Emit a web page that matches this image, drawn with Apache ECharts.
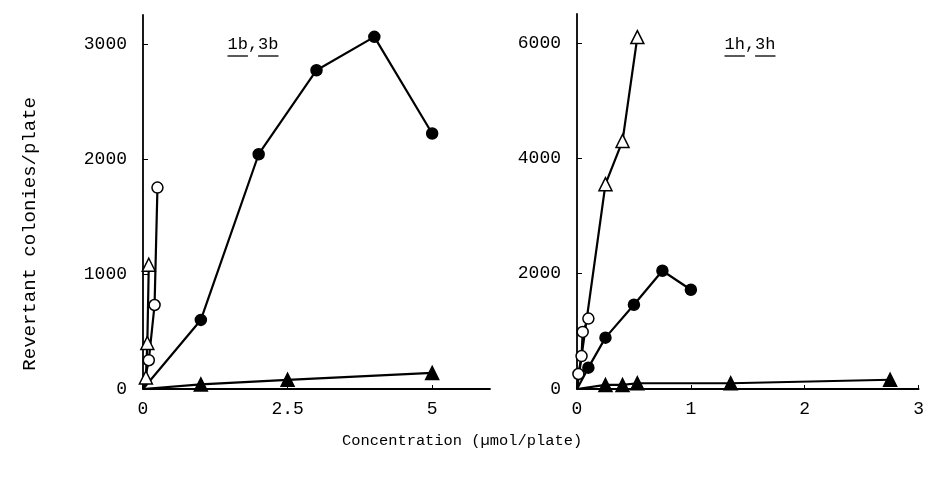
<!DOCTYPE html>
<html>
<head>
<meta charset="utf-8">
<script src="https://cdn.jsdelivr.net/npm/echarts@6/dist/echarts.min.js"></script>
<style>
html,body{margin:0;padding:0;background:#fff;}
#chart{width:927px;height:478px;}
</style>
</head>
<body>
<div id="chart"></div>
<script>
// left panel: 1b, 3b
var bFilledCircleX=[0,1,2,3,4,5];
var bFilledCircleY=[0,600,2040,2770,3060,2220];
var bFilledTriX=[0,1,2.5,5];
var bFilledTriY=[0,40,80,140];
var bOpenCircleX=[0,0.1,0.2,0.25];
var bOpenCircleY=[0,250,730,1750];
var bOpenTriX=[0,0.05,0.075,0.1];
var bOpenTriY=[0,100,400,1080];

// right panel: 1h, 3h
var hOpenTriX=[0,0.25,0.4,0.53];
var hOpenTriY=[0,3550,4300,6100];
var hOpenCircleX=[0,0.0125,0.04,0.05,0.1];
var hOpenCircleY=[0,260,570,990,1220];
var hFilledCircleX=[0,0.1,0.25,0.5,0.75,1];
var hFilledCircleY=[0,370,890,1460,2050,1720];
var hFilledTriX=[0,0.25,0.4,0.53,1.35,2.75];
var hFilledTriY=[0,70,70,100,100,160];

var leftXTicks=[0,2.5,5];
var leftYTicks=[0,1000,2000,3000];
var rightXTicks=[0,1,2,3];
var rightYTicks=[0,2000,4000,6000];

var FONT='Liberation Mono';

function pairs(xs,ys){
  var out=[];
  for(var i=0;i<xs.length;i++){
    out.push([xs[i],ys[i]]);
  }
  return out;
}

function makeSeries(xs,ys,kind,grid){
  var filled=kind.indexOf('filled')==0;
  var tri=kind.indexOf('Tri')>0;
  return {
    type:'line',
    xAxisIndex:grid,
    yAxisIndex:grid,
    data:pairs(xs,ys),
    symbol:tri?'triangle':'circle',
    symbolSize:function(v){ return v[0]==0?0:(tri?13:11); },
    showAllSymbol:true,
    lineStyle:{color:'#000',width:2.2},
    itemStyle:{color:filled?'#000':'#fff',borderColor:'#000',borderWidth:1.5},
    emphasis:{disabled:true},
    animation:false,
    z:filled?3:4
  };
}

function xAxis(grid,max,ticks){
  return {
    type:'value',gridIndex:grid,min:0,max:max,
    splitLine:{show:false},
    axisLine:{lineStyle:{color:'#000',width:1.8}},
    axisTick:{inside:true,length:4,customValues:ticks,lineStyle:{color:'#000'}},
    axisLabel:{customValues:ticks,color:'#000',fontFamily:FONT,fontSize:18,margin:11,
      formatter:function(v){ return String(v); }}
  };
}

function yAxis(grid,max,ticks){
  return {
    type:'value',gridIndex:grid,min:0,max:max,
    splitLine:{show:false},
    axisLine:{show:true,lineStyle:{color:'#000',width:1.8}},
    axisTick:{show:true,inside:true,length:5,customValues:ticks,lineStyle:{color:'#000'}},
    axisLabel:{customValues:ticks,color:'#000',fontFamily:FONT,fontSize:18,margin:16,
      formatter:function(v){ return String(v); }}
  };
}

function panelTitle(a,b,x,y){
  // text with the two compound numbers underlined
  var w=10.2;
  return {
    type:'group',left:x,top:y,
    children:[
      {type:'text',style:{text:a+','+b,font:'17px '+FONT,fill:'#000'}},
      {type:'line',shape:{x1:0,y1:20,x2:a.length*w,y2:20},style:{stroke:'#000',lineWidth:1.3}},
      {type:'line',shape:{x1:(a.length+1)*w,y1:20,x2:(a.length+1+b.length)*w,y2:20},style:{stroke:'#000',lineWidth:1.3}}
    ]
  };
}

var chart=echarts.init(document.getElementById('chart'));
var option={
  backgroundColor:'#fff',
  animation:false,
  grid:[
    {left:143,top:15,width:347,height:374},
    {left:577,top:14,width:346,height:375}
  ],
  xAxis:[xAxis(0,6,leftXTicks),xAxis(1,3,rightXTicks)],
  yAxis:[yAxis(0,3250,leftYTicks),yAxis(1,6500,rightYTicks)],
  graphic:[
    {type:'text',left:342,top:433,style:{text:'Concentration (\u00b5mol/plate)',font:'15.4px '+FONT,fill:'#000'}},
    {type:'text',left:20,top:97,rotation:Math.PI/2,style:{text:'Revertant colonies/plate',font:'19px '+FONT,fill:'#000'}},
    panelTitle('1b','3b',225,36),
    panelTitle('1h','3h',722,36)
  ],
  series:[
    makeSeries(bFilledCircleX,bFilledCircleY,'filledCircle',0),
    makeSeries(bFilledTriX,bFilledTriY,'filledTri',0),
    makeSeries(bOpenCircleX,bOpenCircleY,'openCircle',0),
    makeSeries(bOpenTriX,bOpenTriY,'openTri',0),
    makeSeries(hOpenTriX,hOpenTriY,'openTri',1),
    makeSeries(hOpenCircleX,hOpenCircleY,'openCircle',1),
    makeSeries(hFilledCircleX,hFilledCircleY,'filledCircle',1),
    makeSeries(hFilledTriX,hFilledTriY,'filledTri',1)
  ]
};
chart.setOption(option);
</script>
</body>
</html>
